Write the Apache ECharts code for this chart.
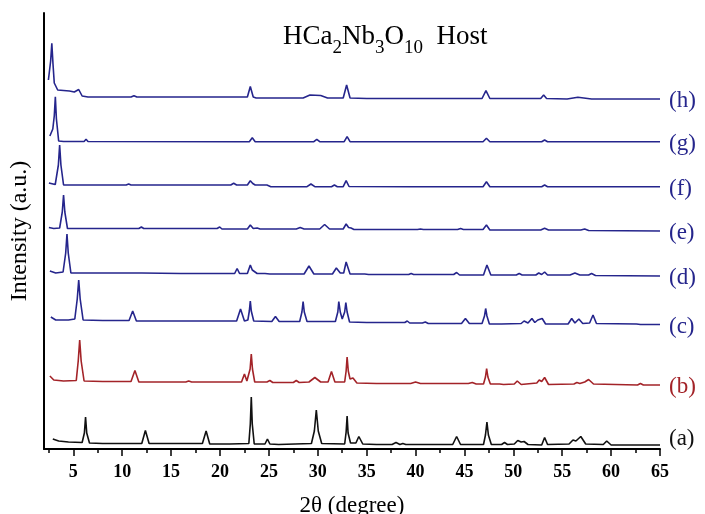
<!DOCTYPE html>
<html><head><meta charset="utf-8">
<script src="https://cdn.jsdelivr.net/npm/echarts@6/dist/echarts.min.js"></script>
<style>html,body{margin:0;padding:0;background:#fff}#c{width:705px;height:514px}</style>
</head><body><div id="c"></div>
<script>
// Trace labels, bottom to top
const traceNames = ['(a)', '(b)', '(c)', '(d)', '(e)', '(f)', '(g)', '(h)'];

// Offset XRD patterns: [2θ (degree), intensity (a.u., stacked)]
const traceA = [[2.9,10],[3.5,8],[4.5,7],[5.9,6.5],[6.13,16],[6.25,32],[6.37,16],[6.65,6],[8,5.5],[10,5.5],[12.0,5.5],[12.37,18.5],[12.75,5.5],[15,5.5],[18.2,5.5],[18.58,18],[18.95,5],[21,5],[22.95,5.5],[23.1,25],[23.2,52],[23.3,25],[23.5,5],[24.6,5],[24.85,10],[25.1,5],[26,4.5],[29.35,5.5],[29.65,18],[29.85,39],[30.05,18],[30.4,5.5],[32.75,5],[32.9,17],[33.0,33],[33.1,16],[33.35,6],[33.9,6],[34.2,12.5],[34.6,5],[36,4.5],[37.6,4.5],[38,6.5],[38.4,4.5],[38.7,5.5],[39,4.5],[43.8,4.5],[44.2,12.5],[44.6,4.5],[46.95,4.5],[47.15,14],[47.3,27],[47.45,14],[47.75,4.5],[48.8,4.5],[49.1,6.5],[49.4,4.5],[50.1,5],[50.45,8.5],[50.8,7],[51.1,7.5],[51.5,4.5],[52.9,4],[53.2,11.5],[53.5,4.5],[55.7,5],[56.1,9],[56.4,8],[56.9,12.5],[57.4,5],[59.2,4.5],[59.55,8],[60,4],[62.6,4],[62.8,5],[63,4],[65,4]];
const traceB = [[2.6,73],[3,69],[4,68],[5.3,68.5],[5.5,88],[5.65,109],[5.8,88],[6.1,68],[8,67.5],[10.9,67.5],[11.3,78.5],[11.7,67],[14,67],[16.5,67],[16.8,68],[17.1,67],[20,67],[22.2,67],[22.5,75],[22.75,68],[22.95,69],[23.08,80],[23.2,95],[23.32,80],[23.55,67],[24.8,67],[25.1,68.5],[25.4,66.5],[27.5,66.5],[27.8,68.5],[28.1,66.5],[29.1,67],[29.7,71.5],[30.3,67],[31.05,67],[31.4,77.5],[31.75,67],[32.75,67],[32.9,78],[33.0,92],[33.12,78],[33.3,70],[33.6,71],[34,66],[36,65.5],[39.5,65.5],[40,67],[40.5,65.5],[45.4,65.5],[45.8,66.5],[46.2,65],[46.95,65],[47.15,72],[47.27,80.5],[47.4,72],[47.65,65],[48.6,65],[48.8,66.5],[49,64.5],[50.1,65],[50.4,68],[50.8,64.5],[52.4,66],[52.65,69],[52.9,67.5],[53.2,71.5],[53.6,64.5],[56.2,65],[56.5,66.5],[56.8,65.5],[57.3,67],[57.7,69.5],[58.2,65],[62.7,64],[63,65.5],[63.3,64],[65,64]];
const traceC = [[2.7,132],[3.2,129],[4.5,129],[5.15,130],[5.4,150],[5.55,169],[5.7,150],[6.0,129],[8,128.5],[10.7,128.5],[11.07,138],[11.45,128],[14,128],[16.5,128],[16.7,129.5],[16.9,128],[21.7,128],[22.1,140],[22.5,128],[22.85,129],[23.0,138],[23.1,148],[23.2,138],[23.45,128],[25.3,127.5],[25.67,132.5],[26.05,127.5],[28.15,127.5],[28.38,137],[28.5,147.5],[28.62,137],[28.9,127.5],[31.8,127.5],[32.05,137],[32.15,147.5],[32.3,137],[32.5,130],[32.75,137],[32.87,146.5],[33.0,137],[33.25,127],[35,126.5],[38.9,126.5],[39.15,128],[39.4,126],[40.7,126],[41,127],[41.3,125.5],[44.7,125.5],[45.1,130.5],[45.5,125.5],[46.8,125.5],[47.05,133],[47.17,140.5],[47.3,133],[47.55,125],[48.4,125],[48.6,127],[48.8,125],[50.8,125.5],[51.1,128],[51.5,126],[51.9,130.5],[52.2,126.5],[52.5,129],[52.7,127],[52.95,130.5],[53.3,125],[55.6,125],[55.97,130.5],[56.3,126],[56.7,130],[57.1,125.5],[57.8,126],[58.15,134],[58.5,125.5],[62.6,125],[62.8,126],[63,124.5],[65,124.5]];
const traceD = [[2.6,178],[3.2,176],[3.95,177],[4.22,196],[4.35,215],[4.48,196],[4.75,176],[6,176],[8.4,176],[8.6,177],[8.8,176],[12,176],[16,175.5],[21.5,175.5],[21.75,180.5],[22,175.5],[22.8,175.5],[23.1,184],[23.3,179],[23.5,179],[23.8,175.5],[24.6,175.5],[24.8,176.5],[25.1,175],[28.6,175],[29.1,183],[29.6,175],[31.5,175],[31.9,181],[32.3,176],[32.65,176],[32.9,187],[33.3,175],[34.8,175],[35,175.5],[35.2,174.5],[39.3,174.5],[39.55,175.5],[39.8,174.5],[43.9,174.5],[44.2,176.5],[44.5,174],[46.95,174],[47.3,184],[47.7,174],[50.3,174],[50.6,175.5],[50.9,174],[52.3,174],[52.6,176],[52.9,174.5],[53.2,177],[53.5,174],[55.8,174],[56.3,176],[56.8,174],[57.7,174],[58,175.5],[58.4,173.5],[65,173]];
const traceE = [[2.5,221.5],[3.0,220.5],[3.6,221],[3.87,237],[4.0,254],[4.13,237],[4.4,220.5],[6,220.5],[11.7,220.5],[11.96,222],[12.2,220.5],[19.7,220.5],[19.97,222],[20.2,220],[22.8,220],[23.1,224],[23.4,220.5],[23.8,221],[24.1,220],[27.8,220],[28.2,221.5],[28.6,220],[30.2,220],[30.7,224.5],[31.2,220],[32.6,220],[32.9,225],[33.15,221.5],[33.4,221],[33.7,219.5],[40.2,219.5],[40.5,220],[40.8,219.5],[44.3,219.5],[44.6,220.5],[44.9,219.5],[46.9,219.5],[47.25,224],[47.6,219],[52.8,219],[53.2,220.7],[53.6,219],[56.9,219],[57.3,220],[57.7,218.5],[65,218]];
const traceF = [[2.5,266],[3.15,264.5],[3.47,284],[3.6,304],[3.73,284],[4.0,264],[6,264],[10.4,264],[10.66,265],[10.9,264],[17.6,264],[17.8,264.7],[18,264],[21.1,264],[21.4,265.7],[21.7,264],[22.8,264],[23.1,268.3],[23.35,265.5],[23.6,264],[24.8,264],[25.0,263.3],[25.2,262.3],[28.9,262.3],[29.3,265],[29.7,262.3],[31.4,262.3],[31.7,264],[32,262.3],[32.6,262.3],[32.9,268.3],[33.2,262.5],[39.4,262.3],[39.6,263],[39.8,262.3],[43.2,262.3],[43.4,263],[43.6,262.3],[46.9,262.3],[47.25,267.3],[47.6,262.3],[52.9,262.3],[53.2,264],[53.5,262.3],[65,262.3]];
const traceG = [[2.6,313],[2.9,320],[3.05,333],[3.16,352.3],[3.27,330],[3.5,308],[4,307.5],[6.1,307.5],[6.3,309.7],[6.5,307.5],[21.7,307.3],[21.9,308.5],[22.1,307.3],[23.0,307.3],[23.3,311.3],[23.6,307.3],[29.6,307.3],[29.9,309.7],[30.2,307.3],[32.7,307.3],[33.0,312.3],[33.3,307.3],[46.9,307.3],[47.25,310.7],[47.6,307.3],[52.9,307.3],[53.2,309],[53.5,307.3],[56.7,307.3],[56.9,308],[57.1,307.3],[65,307.3]];
const traceH = [[2.45,369],[2.68,388],[2.8,405.7],[2.92,385],[3.05,366],[3.4,359],[4,358.5],[4.6,358],[5.1,357],[5.55,359.5],[5.9,353],[6.5,352],[10.9,352],[11.2,353.3],[11.5,352],[19,352],[19.2,354],[19.4,352],[22.8,352],[23.1,362.5],[23.4,352],[23.7,351],[28.5,351],[29.2,354],[30.3,353.5],[31,351],[32.6,351],[32.95,364],[33.3,351],[35,350.5],[46.8,350.5],[47.2,358.3],[47.6,350.5],[52.8,350.5],[53.1,354],[53.4,350.5],[55.5,350],[56.6,351.7],[58,350],[65,350]];

// Axis ticks
const majorTicks = [5, 10, 15, 20, 25, 30, 35, 40, 45, 50, 55, 60, 65];
const minorTicks = [2.5, 7.5, 12.5, 17.5, 22.5, 27.5, 32.5, 37.5, 42.5, 47.5, 52.5, 57.5, 62.5];

const traces = [traceA, traceB, traceC, traceD, traceE, traceF, traceG, traceH];
const BLUE = '#25258c', RED = '#a32328', BLACK = '#111111';
const colors = [BLACK, RED, BLUE, BLUE, BLUE, BLUE, BLUE, BLUE];
const SERIF = '"Liberation Serif", "Times New Roman", serif';

const series = traces.map((d, i) => ({
  type: 'line',
  name: traceNames[i],
  data: d,
  showSymbol: false,
  symbol: 'none',
  xAxisIndex: 0, yAxisIndex: 0,
  lineStyle: { color: colors[i], width: 1.6 },
  itemStyle: { color: colors[i] },
  silent: true,
  endLabel: {
    show: true,
    formatter: traceNames[i],
    color: colors[i],
    fontSize: 23,
    fontFamily: SERIF,
    distance: 9,
    offset: i === 0 ? [0, -6] : [0, 2]
  }
}));

const chart = echarts.init(document.getElementById('c'), null, { renderer: 'canvas' });
chart.setOption({
  animation: false,
  backgroundColor: '#fff',
  title: {
    text: '{m|HCa}{s|2}{m|Nb}{s|3}{m|O}{s|10}{m|  Host}',
    left: 283, top: 23, padding: 0,
    textStyle: {
      fontWeight: 'normal',
      rich: {
        m: { fontSize: 27, fontFamily: SERIF, color: '#000', verticalAlign: 'bottom', padding: [0, 0, 8, 0], fontWeight: 'normal' },
        s: { fontSize: 19, fontFamily: SERIF, color: '#000', verticalAlign: 'bottom', fontWeight: 'normal' }
      }
    }
  },
  grid: [
    { left: 44, right: 45, top: 13, bottom: 65, outerBoundsMode: 'none', containLabel: false },
    { left: 44, right: 45, top: 13, bottom: 65, outerBoundsMode: 'none', containLabel: false }
  ],
  xAxis: [
    {
      type: 'value', gridIndex: 0, min: 2, max: 65,
      axisLine: { show: true, onZero: false, lineStyle: { color: '#000', width: 2 } },
      axisTick: { show: true, customValues: majorTicks, length: 7, lineStyle: { color: '#000', width: 1.5 } },
      axisLabel: { show: true, customValues: majorTicks, fontSize: 18, fontWeight: 'bold', fontFamily: SERIF, color: '#000', margin: 14 },
      splitLine: { show: false },
      name: '2θ (degree)', nameLocation: 'middle', nameGap: 45,
      nameTextStyle: { fontSize: 23, fontFamily: SERIF, color: '#000' }
    },
    {
      type: 'value', gridIndex: 1, min: 2, max: 65,
      axisLine: { show: false },
      axisTick: { show: true, customValues: minorTicks, length: 4, lineStyle: { color: '#000', width: 1.5 } },
      axisLabel: { show: false },
      splitLine: { show: false }
    }
  ],
  yAxis: [
    {
      type: 'value', gridIndex: 0, min: 0, max: 436,
      axisLine: { show: true, onZero: false, lineStyle: { color: '#000', width: 2 } },
      axisTick: { show: false }, axisLabel: { show: false }, splitLine: { show: false },
      name: 'Intensity (a.u.)', nameLocation: 'middle', nameGap: 12,
      nameTextStyle: { fontSize: 24, fontFamily: SERIF, color: '#000' }
    },
    {
      type: 'value', gridIndex: 1, min: 0, max: 436,
      axisLine: { show: false }, axisTick: { show: false }, axisLabel: { show: false }, splitLine: { show: false }
    }
  ],
  series: series
});
</script>
</body></html>
